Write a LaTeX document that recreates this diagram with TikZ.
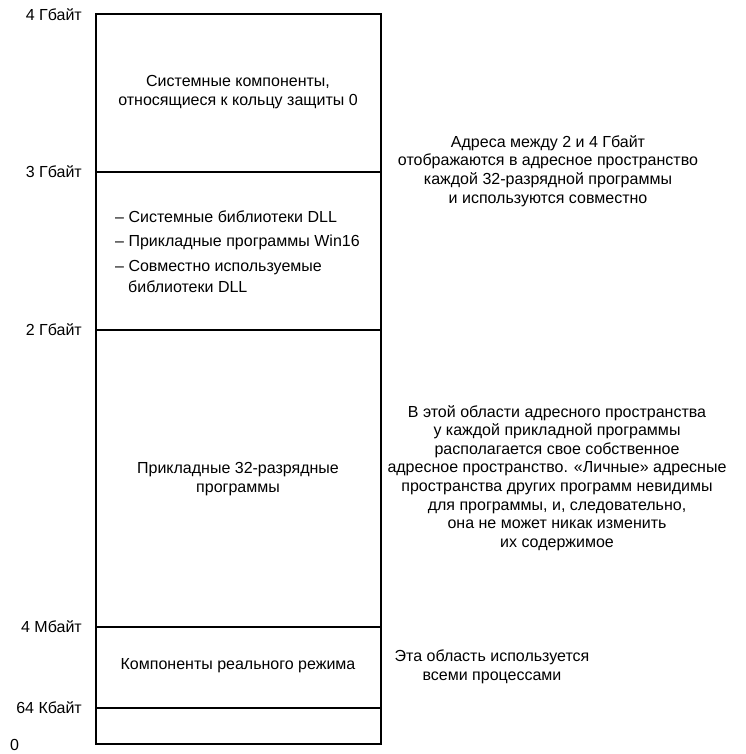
\documentclass[tikz,border=0pt]{standalone}
\usepackage{fontspec}
\setmainfont{Liberation Sans}
\begin{document}
\begin{tikzpicture}[x=1pt,y=-1pt,
  every node/.style={font=\fontsize{16}{18.6}\selectfont, inner sep=0pt},
  lbl/.style={anchor=east},
  txt/.style={align=center},
  item/.style={anchor=west},
  frame/.style={line width=1.3pt}]
\useasboundingbox (0,0) rectangle (745,754);
% memory map
\draw[frame] (96,14) rectangle (381,744);
\draw[frame] (96,172) -- (381,172);
\draw[frame] (96,330) -- (381,330);
\draw[frame] (96,627) -- (381,627);
\draw[frame] (96,708) -- (381,708);
% address labels
\node[lbl] (g4) at (82,15) {4 Гбайт};
\node[lbl] (g3) at (82,172) {3 Гбайт};
\node[lbl] (g2) at (82,330) {2 Гбайт};
\node[lbl] (m4) at (82,627) {4 Мбайт};
\node[lbl] (k64) at (82,708) {64 Кбайт};
\node[anchor=west] (z0) at (10,745) {0};
% region texts
\node[txt] (sys) at (238,92) {Системные компоненты,\\относящиеся к кольцу защиты 0};
\node[item] (i1) at (115,217) {– Системные библиотеки DLL};
\node[item] (i2) at (115,242) {– Прикладные программы Win16};
\node[item] (i3) at (115,268) {– Совместно используемые};
\node[item] (i3b) at (128,287) {библиотеки DLL};
\node[txt] (app) at (238,479) {Прикладные 32-разрядные\\программы};
\node[txt] (real) at (238,666) {Компоненты реального режима};
% comments
\node[txt] (c1) at (548,171) {Адреса между 2 и 4 Гбайт\\отображаются в адресное пространство\\каждой 32-разрядной программы\\и используются совместно};
\node[txt] (c2) at (557,478) {В этой области адресного пространства\\у каждой прикладной программы\\располагается свое собственное\\адресное пространство. «Личные» адресные\\пространства других программ невидимы\\для программы, и, следовательно,\\она не может никак изменить\\их содержимое};
\node[txt] (c3) at (492,667) {Эта область используется\\всеми процессами};
\end{tikzpicture}
\end{document}
